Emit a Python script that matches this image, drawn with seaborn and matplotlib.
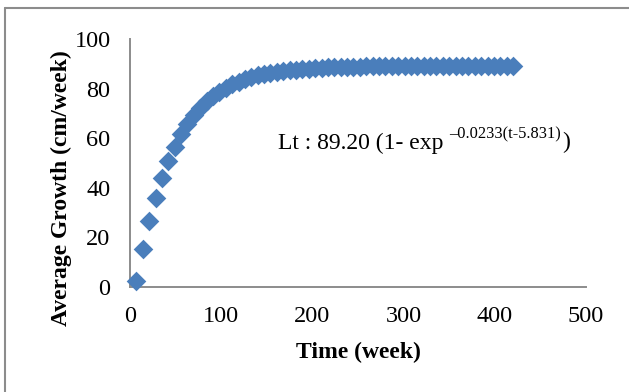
import matplotlib
matplotlib.use("Agg")
import matplotlib.pyplot as plt
from matplotlib.lines import Line2D
import seaborn as sns
import pandas as pd

# Weekly sampled growth (von Bertalanffy fit)
weeks = [7, 14, 21, 28, 35, 42, 49, 56, 63, 70,
         77, 84, 91, 98, 105, 112, 119, 126, 133, 140,
         147, 154, 161, 168, 175, 182, 189, 196, 203, 210,
         217, 224, 231, 238, 245, 252, 259, 266, 273, 280,
         287, 294, 301, 308, 315, 322, 329, 336, 343, 350,
         357, 364, 371, 378, 385, 392, 399, 406, 413, 420]
growth = [2.4, 15.5, 26.6, 36.0, 44.0, 50.8, 56.6, 61.5, 65.7, 69.2,
          72.2, 74.8, 76.9, 78.8, 80.4, 81.7, 82.8, 83.8, 84.6, 85.3,
          85.9, 86.4, 86.8, 87.2, 87.5, 87.7, 88.0, 88.1, 88.3, 88.4,
          88.6, 88.7, 88.7, 88.8, 88.9, 88.9, 89.0, 89.0, 89.0, 89.1,
          89.1, 89.1, 89.1, 89.1, 89.1, 89.1, 89.2, 89.2, 89.2, 89.2,
          89.2, 89.2, 89.2, 89.2, 89.2, 89.2, 89.2, 89.2, 89.2, 89.2]

x_ticks = [0, 100, 200, 300, 400, 500]
y_ticks = [0, 20, 40, 60, 80, 100]

df = pd.DataFrame({"Time (week)": weeks, "Average Growth (cm/week)": growth})

sns.set_theme(style="white")
plt.rcParams["font.family"] = ["Liberation Serif", "DejaVu Serif"]

fig = plt.figure(figsize=(6.29, 3.92), dpi=100)
W, H = 629, 392
ax = fig.add_axes([130 / W, 1 - 287 / H, (586 - 130) / W, (287 - 39) / H])

sns.scatterplot(data=df, x="Time (week)", y="Average Growth (cm/week)",
                marker="D", s=100, color="#4A7EBB", linewidth=0,
                ax=ax, clip_on=False, zorder=3)

ax.set_xlim(0, 500)
ax.set_ylim(0, 100)
ax.set_xticks(x_ticks)
ax.set_yticks(y_ticks)
ax.tick_params(axis="both", length=0, labelsize=17.5, colors="black")
ax.tick_params(axis="x", pad=14)
ax.tick_params(axis="y", pad=14)

for side in ["top", "right"]:
    ax.spines[side].set_visible(False)
for side in ["left", "bottom"]:
    ax.spines[side].set_color("#8C8C8C")
    ax.spines[side].set_linewidth(1.4)

ax.set_xlabel("Time (week)", fontsize=17, fontweight="bold", color="black")
ax.set_ylabel("Average Growth (cm/week)", fontsize=17, fontweight="bold", color="black")
ax.xaxis.set_label_coords(0.5, -0.222)
ax.yaxis.set_label_coords(-0.128, 0.40)

# Model equation with a superscripted exponent
main = ax.text(162.3, 55.6, "Lt : 89.20 (1- exp ", fontsize=17,
               ha="left", va="baseline", color="black")
sup = ax.annotate("\u20130.0233(t-5.831)", xy=(1, 0), xycoords=main,
                  xytext=(0, 11), textcoords="offset points",
                  fontsize=11.8, ha="left", va="baseline", color="black")
ax.annotate(")", xy=(1, 0), xycoords=sup, xytext=(0.5, -3.5),
            textcoords="offset points", fontsize=17, ha="left",
            va="baseline", color="black")

# Chart frame
fig.add_artist(Line2D([5 / W, 1], [1 - 8 / H, 1 - 8 / H], color="#8C8C8C", lw=1.5))
fig.add_artist(Line2D([5 / W, 5 / W], [0, 1 - 8 / H], color="#8C8C8C", lw=1.5))

fig.savefig("out.png", dpi=100, facecolor="white")
